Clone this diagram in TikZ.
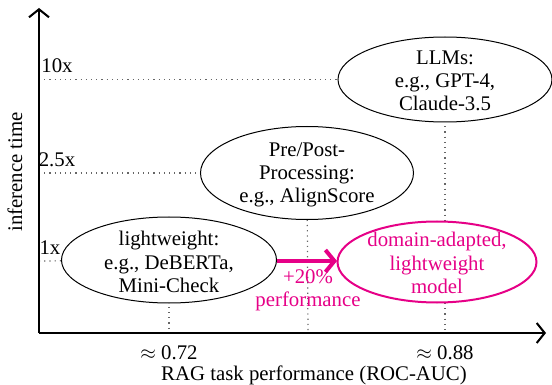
\documentclass[tikz,border=0pt]{standalone}
\usepackage{fontspec}
\setmainfont{Liberation Serif}
\usetikzlibrary{arrows.meta}
\definecolor{pinkm}{RGB}{230,0,135}
\begin{document}
\begin{tikzpicture}[x=0.5pt,y=-0.5pt,
  every node/.style={font=\fontsize{10.4}{11.6}\selectfont},
  dots/.style={dotted, gray!80!black, line width=0.6pt},
  axis/.style={line width=1pt, -{Straight Barb[length=4pt,width=10pt,line width=1pt]}}
]
\useasboundingbox (0,0) rectangle (552,385);
\coordinate (O) at (39,333);
\coordinate (ytop) at (39,8);
\coordinate (xend) at (546,333);
\coordinate (llmC) at (445,79.5);
\coordinate (ppC) at (307,173);
\coordinate (lwC) at (169,260);
\coordinate (daC) at (437,262);
\coordinate (y10) at (39,79.5);
\coordinate (y25) at (39,173);
\coordinate (y1) at (39,261);
\coordinate (x72) at (169,333);
\coordinate (x88) at (445,333);
\coordinate (xpp) at (308,333);
\draw[dots] (y10) -- (llmC);
\draw[dots] (y25) -- (ppC);
\draw[dots] (y1) -- (lwC);
\draw[dots] (llmC) -- (x88);
\draw[dots] (ppC) -- (xpp);
\draw[dots] (lwC) -- (x72);
\filldraw[fill=white, line width=0.5pt] (llmC) ellipse [x radius=107, y radius=42.5];
\filldraw[fill=white, line width=0.5pt] (ppC) ellipse [x radius=106.5, y radius=46.5];
\filldraw[fill=white, line width=0.5pt] (lwC) ellipse [x radius=107.5, y radius=43];
\filldraw[fill=white, draw=pinkm, line width=1pt] (daC) ellipse [x radius=99.5, y radius=40.5];
\node[align=center] (llm) at (445,81) {LLMs:\\e.g., GPT-4,\\Claude-3.5};
\node[align=center] (pp) at (307,175) {Pre/Post-\\Processing:\\e.g., AlignScore};
\node[align=center] (lw) at (169,262) {lightweight:\\e.g., DeBERTa,\\Mini-Check};
\node[align=center, text=pinkm] (da) at (437,263) {domain-adapted,\\lightweight\\model};
\coordinate (aS) at (277,261);
\coordinate (aE) at (337,261);
\draw[pinkm, line width=2pt, -{Straight Barb[length=4.5pt,width=11pt,line width=2pt]}] (aS) -- (aE);
\node[align=center, text=pinkm] (gain) at (308,290) {+20\%\\performance};
\draw[axis] (O) -- (ytop);
\draw[axis] (O) -- (xend);
\node (t10) at (57,66) {10x};
\node (t25) at (57,160) {2.5x};
\node (t1) at (50,248) {1x};
\node (l72) at (169,353) {$\approx$ 0.72};
\node (l88) at (445,353) {$\approx$ 0.88};
\node (xl) at (314,375) {RAG task performance (ROC-AUC)};
\node[rotate=90] (yl) at (15,172) {inference time};
\end{tikzpicture}
\end{document}
